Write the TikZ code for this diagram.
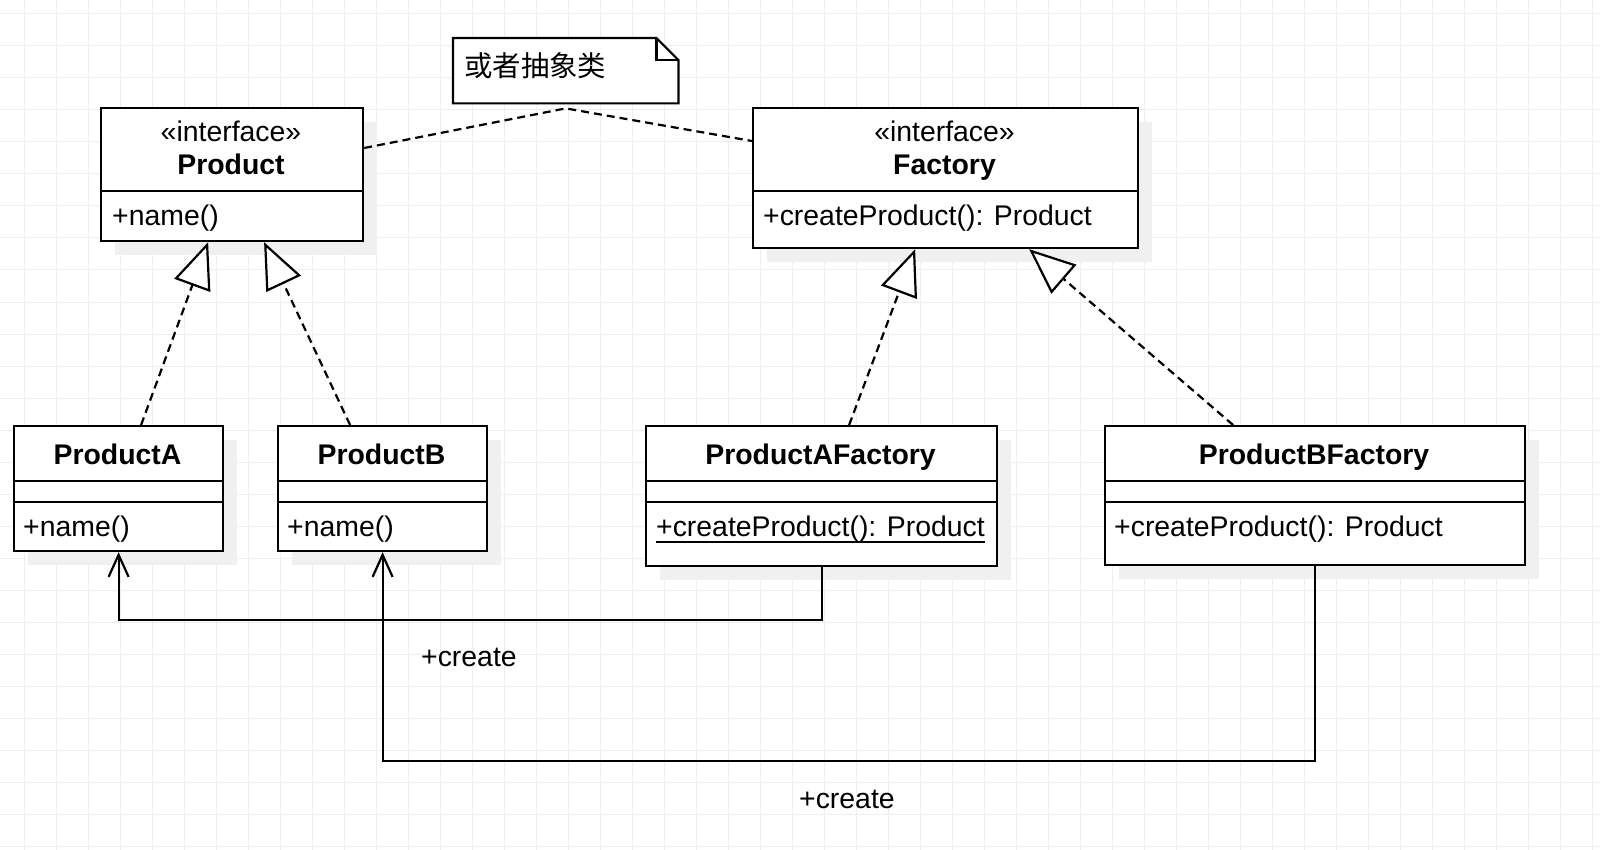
\documentclass[tikz,border=0pt]{standalone}
\usepackage{fontspec}
\setmainfont{Liberation Sans}
\newfontfamily\cjk{Noto Sans CJK SC}
\usetikzlibrary{arrows.meta}
\definecolor{gridc}{RGB}{238,238,238}
\definecolor{shadowc}{RGB}{240,240,240}
\begin{document}
\begin{tikzpicture}[x=1pt,y=-1pt,
  every node/.style={inner sep=0pt, font=\fontsize{28.4}{34}\selectfont},
  box/.style={draw=black, line width=2.2pt, fill=white, anchor=north west},
  shadow/.style={fill=shadowc},
  divider/.style={draw=black, line width=2.2pt},
  gridline/.style={draw=gridc, line width=1pt},
  dashline/.style={draw=black, line width=2.2pt, dash pattern=on 8pt off 5pt},
  real/.style={dashline, -{Triangle[open, fill=white, length=46pt, width=38pt]}},
  assoc/.style={draw=black, line width=2.2pt, -{Straight Barb[length=22pt, width=20pt]}},
  title/.style={anchor=base},
  member/.style={anchor=base west}
]
\useasboundingbox (0,0) rectangle (1600,850);
\fill[white] (0,0) rectangle (1600,850);
% grid
\foreach \x in {24,56,...,1592} \draw[gridline] (\x,0) -- (\x,850);
\foreach \y in {14,46,...,846} \draw[gridline] (0,\y) -- (1600,\y);

% shadows
\fill[shadow] (115,122) rectangle (377,255);
\fill[shadow] (767,122) rectangle (1152,262);
\fill[shadow] (28,440) rectangle (237,565);
\fill[shadow] (292,440) rectangle (501,565);
\fill[shadow] (660,440) rectangle (1011,580);
\fill[shadow] (1119,440) rectangle (1539,579);

% boxes
\node[box, minimum width=262pt, minimum height=133pt] (product) at (100,107) {};
\node[box, minimum width=385pt, minimum height=140pt] (factory) at (752,107) {};
\node[box, minimum width=209pt, minimum height=125pt] (producta) at (13,425) {};
\node[box, minimum width=209pt, minimum height=125pt] (productb) at (277,425) {};
\node[box, minimum width=351pt, minimum height=140pt] (paf) at (645,425) {};
\node[box, minimum width=420pt, minimum height=139pt] (pbf) at (1104,425) {};

% dividers
\draw[divider] ([yshift=-84pt]product.north west) -- ([yshift=-84pt]product.north east);
\draw[divider] ([yshift=-84pt]factory.north west) -- ([yshift=-84pt]factory.north east);
\foreach \b in {producta,productb,paf,pbf}{
  \draw[divider] ([yshift=-56pt]\b.north west) -- ([yshift=-56pt]\b.north east);
  \draw[divider] ([yshift=-77pt]\b.north west) -- ([yshift=-77pt]\b.north east);
}

% texts
\node[title] (productst) at (231,142) {«interface»};
\node[title] (productt) at (231,175) {\bfseries Product};
\node[member] (productop) at (112,226) {+name()};
\node[title] (factoryst) at (944.5,142) {«interface»};
\node[title] (factoryt) at (944.5,175) {\bfseries Factory};
\node[member] (factoryop) at (763,226) {+createProduct(): Product};
\node[title] (productat) at (117.5,464) {\bfseries ProductA};
\node[member] (productaop) at (23,536) {+name()};
\node[title] (productbt) at (381.5,464) {\bfseries ProductB};
\node[member] (productbop) at (287,536) {+name()};
\node[title] (paft) at (820.5,464) {\bfseries ProductAFactory};
\node[member] (pafop) at (656,536) {+createProduct(): Product};
\draw[line width=2pt] ([yshift=-6pt]pafop.base west) -- ([yshift=-6pt]pafop.base east);
\node[title] (pbft) at (1314,464) {\bfseries ProductBFactory};
\node[member] (pbfop) at (1114,536) {+createProduct(): Product};

% note
\node[anchor=north west, minimum width=225pt, minimum height=65pt] (note) at (453,38) {};
\draw[line width=2.2pt, fill=white, line join=miter] (note.north west) -- ([xshift=-22pt]note.north east) -- ([yshift=-22pt]note.north east) -- (note.south east) -- (note.south west) -- cycle;
\draw[line width=2.2pt, line join=miter] ([xshift=-22pt]note.north east) -- ([xshift=-22pt,yshift=-22pt]note.north east) -- ([yshift=-22pt]note.north east);
\node[anchor=west] (notetext) at (464,66) {\cjk 或者抽象类};

% note links
\draw[dashline] ([yshift=-41pt]product.north east) -- ([yshift=-5pt]note.south) -- ([yshift=-34pt]factory.north west);

% realizations
\draw[real] ([xshift=22.5pt]producta.north) -- ([xshift=-24pt]product.south);
\draw[real] ([xshift=-32.5pt]productb.north) -- ([xshift=32pt]product.south);
\draw[real] ([xshift=27.5pt]paf.north) -- ([xshift=-30.5pt]factory.south);
\draw[real] ([xshift=-82pt]pbf.north) -- ([xshift=83.5pt]factory.south);

% associations
\draw[assoc] (paf.south) -- ++(0,53) -| (producta.south);
\draw[assoc] (pbf.south) -- ++(0,195) -| (productb.south);
\node[member] (lbl1) at (421,666) {+create};
\node[member] (lbl2) at (799,808) {+create};
\end{tikzpicture}
\end{document}
